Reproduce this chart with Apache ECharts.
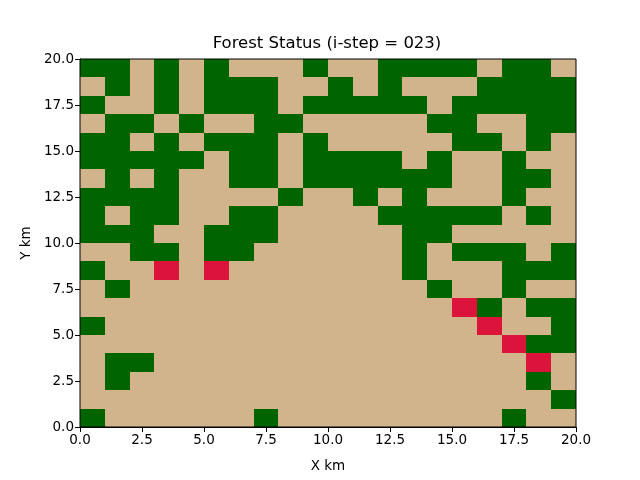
<!DOCTYPE html>
<html>
<head>
<meta charset="utf-8">
<script src="https://cdn.jsdelivr.net/npm/echarts@6/dist/echarts.min.js"></script>
<style>
  html, body { margin: 0; padding: 0; background: #fff; }
  #chart { width: 640px; height: 480px; }
</style>
</head>
<body>
<div id="chart"></div>
<script>
// cell states per row, top row (y = 19) first: T = bare ground, G = tree, R = fire
var rows = [
  'GGTGTGTTTGTTGGGGTGGT',
  'TGTGTGGGTTGTGTTTGGGG',
  'GTTGTGGGTGGGGGTGGGGG',
  'TGGTGTTGGTTTTTGGTTGG',
  'GGTGTGGGTGTTTTTGGTGT',
  'GGGGGTGGTGGGGTGTTGTT',
  'TGTGTTGGTGGGGGGTTGGT',
  'GGGGTTTTGTTGTGTTTGTT',
  'GTGGTTGGTTTTGGGGGTGT',
  'GGGTTGGGTTTTTGGTTTTT',
  'TTGGTGGTTTTTTGTGGGTG',
  'GTTRTRTTTTTTTGTTTGGG',
  'TGTTTTTTTTTTTTGTTGTT',
  'TTTTTTTTTTTTTTTRGTGG',
  'GTTTTTTTTTTTTTTTRTTG',
  'TTTTTTTTTTTTTTTTTRGG',
  'TGGTTTTTTTTTTTTTTTRT',
  'TGTTTTTTTTTTTTTTTTGT',
  'TTTTTTTTTTTTTTTTTTTG',
  'GTTTTTTGTTTTTTTTTGTT'
];
var stateNames = { T: 0, G: 1, R: 2 };
var stateColors = ['#d2b48c', '#006400', '#dc143c'];
var xTicks = [0, 2.5, 5, 7.5, 10, 12.5, 15, 17.5, 20];
var yTicks = [0, 2.5, 5, 7.5, 10, 12.5, 15, 17.5, 20];

var cells = [];
for (var r = 0; r < rows.length; r++) {
  var y = rows.length - 1 - r;
  for (var c = 0; c < rows[r].length; c++) {
    cells.push([c, y, stateNames[rows[r].charAt(c)]]);
  }
}

function renderCell(params, api) {
  var x = api.value(0);
  var y = api.value(1);
  // snap to whole pixels so neighbouring cells leave no seams
  var p0 = api.coord([x, y + 1]).map(Math.round);
  var p1 = api.coord([x + 1, y]).map(Math.round);
  return {
    type: 'rect',
    shape: { x: p0[0], y: p0[1], width: p1[0] - p0[0], height: p1[1] - p0[1] },
    style: { fill: stateColors[api.value(2)] }
  };
}

var font = 'DejaVu Sans';
var tickLabel = {
  color: '#000', fontFamily: font, fontSize: 13.5, margin: 6,
  formatter: function(v) { return v.toFixed(1); }
};

var chart = echarts.init(document.getElementById('chart'));
chart.setOption({
  animation: false,
  title: {
    text: 'Forest Status (i-step = 023)',
    left: 322, top: 30, textAlign: 'center',
    textStyle: { fontFamily: font, fontSize: 16.5, fontWeight: 'normal', color: '#000' }
  },
  grid: {
    left: 80, right: 64, top: 59, bottom: 53,
    show: true, borderColor: '#000', borderWidth: 1, backgroundColor: 'transparent',
    z: 10
  },
  xAxis: {
    type: 'value', min: 0, max: 20, interval: 2.5,
    name: 'X km', nameLocation: 'middle', nameGap: 32,
    nameTextStyle: { fontFamily: font, fontSize: 13.5, color: '#000' },
    axisLine: { show: true, lineStyle: { color: '#000' } },
    axisTick: { show: true, inside: false, length: 5, lineStyle: { color: '#000' } },
    axisLabel: tickLabel,
    splitLine: { show: false }
  },
  yAxis: {
    type: 'value', min: 0, max: 20, interval: 2.5,
    name: 'Y km', nameLocation: 'middle', nameGap: 46,
    nameTextStyle: { fontFamily: font, fontSize: 13.5, color: '#000' },
    axisLine: { show: true, lineStyle: { color: '#000' } },
    axisTick: { show: true, inside: false, length: 5, lineStyle: { color: '#000' } },
    axisLabel: tickLabel,
    splitLine: { show: false }
  },
  series: [{
    type: 'custom',
    renderItem: renderCell,
    data: cells,
    encode: { x: 0, y: 1 },
    clip: true
  }]
});
</script>
</body>
</html>
